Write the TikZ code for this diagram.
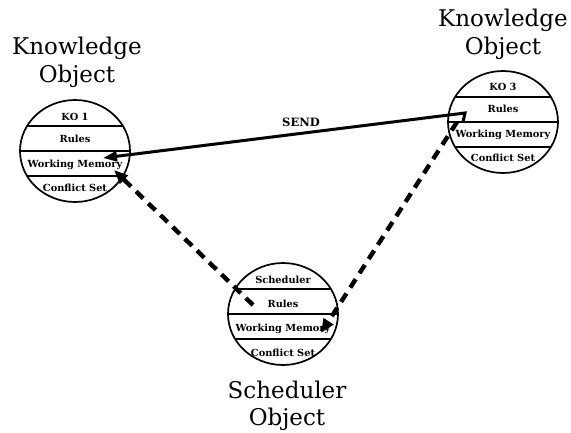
\documentclass[tikz,border=0pt]{standalone}
\usepackage{fontspec}
\setmainfont{DejaVu Serif}
\newfontfamily\titlefont{DejaVu Serif}
\usetikzlibrary{arrows.meta,shapes.geometric}
\begin{document}
\begin{tikzpicture}[x=1pt,y=-1pt,
  title/.style={font=\titlefont\fontsize{23}{23}\selectfont, anchor=base, inner sep=0pt},
  lab/.style={font=\bfseries\fontsize{9.8}{10}\selectfont, inner sep=0pt},
  sendlab/.style={font=\bfseries\fontsize{11.5}{12}\selectfont, inner sep=0pt},
  obj/.style={draw, line width=1.7pt, ellipse, minimum width=110pt, minimum height=102pt, inner sep=0pt},
  band/.style={line width=1.3pt},
  solidarrow/.style={line width=3pt, line join=miter, -{Triangle[length=14pt,width=10pt,fill=black]}},
  dasharrow/.style={line width=4.4pt, dash pattern=on 10pt off 7pt, -{Triangle[length=14pt,width=11pt,fill=black]}}]
\useasboundingbox (0,0) rectangle (571,433);

% ---------- KO 1 ----------
\node[obj] (ko1) at (75,151) {};
\draw[band] (27,126) -- (123,126);
\draw[band] (ko1.west) -- (ko1.east);
\draw[band] (27,176) -- (123,176);
\node[lab] (ko1a) at (75,117) {KO 1};
\node[lab] (ko1b) at (75,139) {Rules};
\node[lab] (ko1c) at (75,165) {Working Memory};
\node[lab] (ko1d) at (75,188) {Conflict Set};
\node[title] (ko1t1) at (77,55) {Knowledge};
\node[title] (ko1t2) at (77,83) {Object};

% ---------- KO 3 ----------
\node[obj] (ko3) at (503,122) {};
\draw[band] (455,97) -- (551,97);
\draw[band] (ko3.west) -- (ko3.east);
\draw[band] (455,147) -- (551,147);
\node[lab] (ko3a) at (503,87) {KO 3};
\node[lab] (ko3b) at (503,109) {Rules};
\node[lab] (ko3c) at (503,135) {Working Memory};
\node[lab] (ko3d) at (503,158) {Conflict Set};
\node[title] (ko3t1) at (503,27) {Knowledge};
\node[title] (ko3t2) at (503,55) {Object};

% ---------- Scheduler ----------
\node[obj] (sch) at (283,314) {};
\draw[band] (235,289) -- (331,289);
\draw[band] (sch.west) -- (sch.east);
\draw[band] (235,339) -- (331,339);
\node[lab] (scha) at (283,280) {Scheduler};
\node[lab] (schb) at (283,304) {Rules};
\node[lab] (schc) at (283,329) {Working Memory};
\node[lab] (schd) at (283,353) {Conflict Set};
\node[title] (scht1) at (287,398) {Scheduler};
\node[title] (scht2) at (287,425) {Object};

% ---------- connectors ----------
\coordinate (ko3hook) at (463,122);
\coordinate (ko3send) at (465,113);
\coordinate (ko1wm) at (103,158);
\coordinate (schrules) at (253,305);
\coordinate (ko1cs) at (114,170);
\coordinate (ko3rules) at (457,122);
\coordinate (schwm) at (321,333);

\draw[solidarrow] (ko3hook) -- (ko3send) -- (ko1wm);
\node[sendlab] (send) at (301,122) {SEND};
\draw[dasharrow] (schrules) -- (ko1cs);
\draw[dasharrow] (ko3rules) -- (schwm);
\end{tikzpicture}
\end{document}
